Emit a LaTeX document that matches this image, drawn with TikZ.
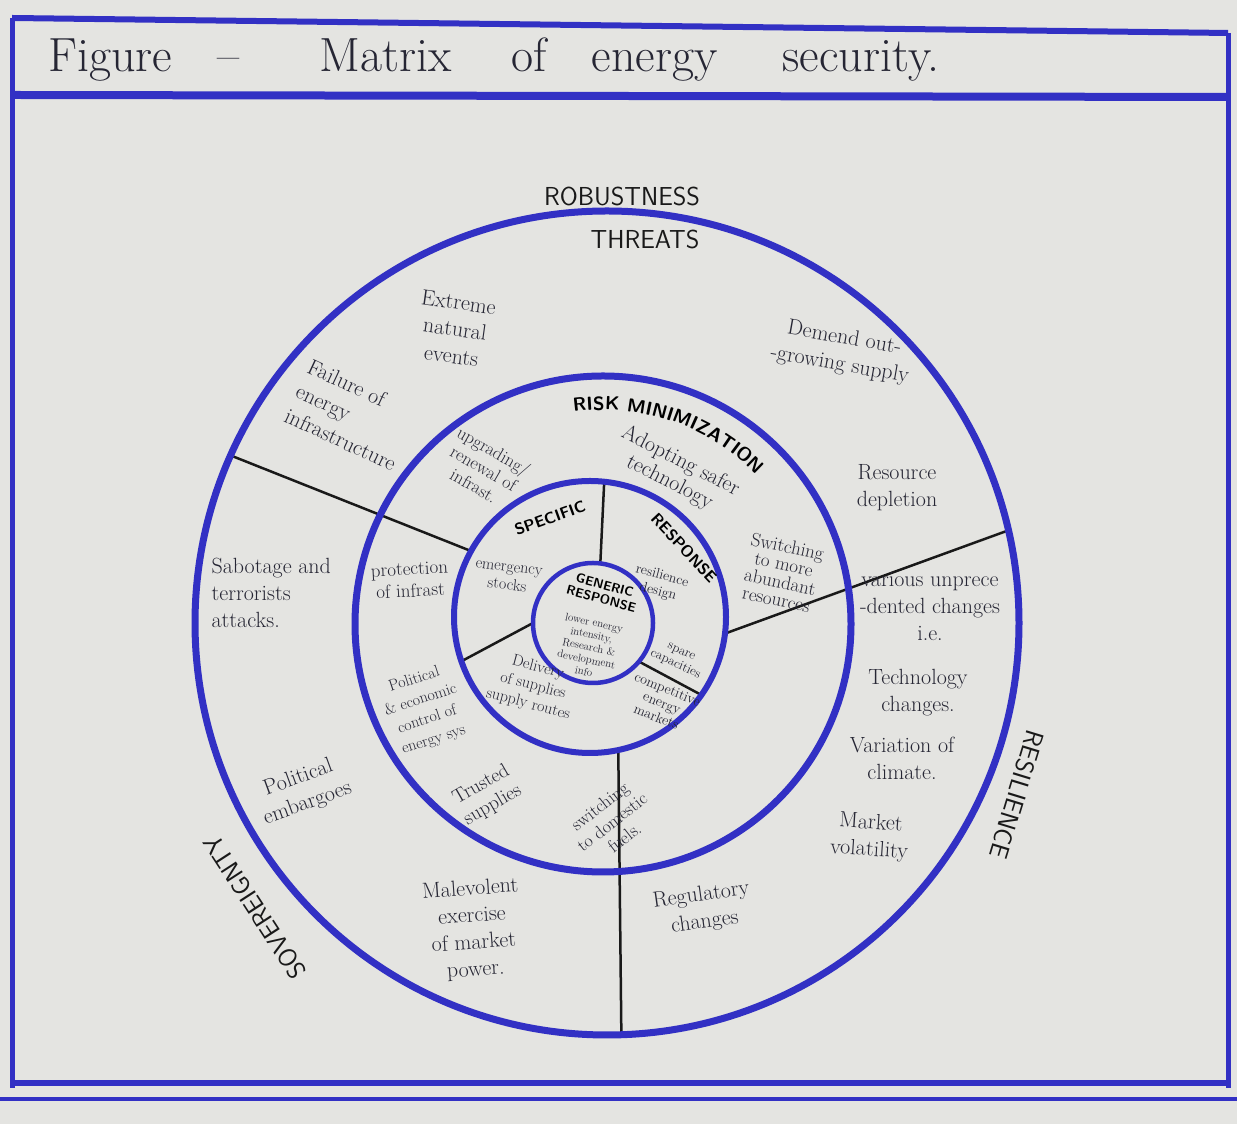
\documentclass[tikz,border=0pt]{standalone}
\usepackage{tikz}
\usetikzlibrary{backgrounds,decorations.text}
\definecolor{inkblue}{RGB}{50,48,196}
\definecolor{paper}{RGB}{228,228,225}
\definecolor{pencil}{RGB}{38,38,52}
\newcommand{\riskfont}{\sffamily\bfseries\fontsize{19}{21}\selectfont}
\tikzset{
	ring/.style={circle, draw=inkblue, inner sep=0pt, outer sep=0pt},
	divider/.style={draw=black!90, line width=2.5pt},
	frameline/.style={draw=inkblue, line width=6pt},
	heading/.style={font=\sffamily\fontsize{26}{28}\selectfont, text=black!90},
	threatlabel/.style={font=\fontsize{22}{27}\selectfont, text=pencil, align=center},
	risklabel/.style={font=\fontsize{19}{22}\selectfont, text=pencil, align=center},
	speclabel/.style={font=\fontsize{16}{18}\selectfont, text=pencil, align=center},
	speccap/.style={font=\sffamily\bfseries\fontsize{16}{18}\selectfont, text=black},
	gencap/.style={font=\sffamily\bfseries\fontsize{13}{14}\selectfont, text=black, align=center},
	genlabel/.style={font=\fontsize{11}{12.5}\selectfont, text=pencil, align=center},
}

\begin{document}
\begin{tikzpicture}[x=1pt, y=1pt]
	\begin{scope}[on background layer]
		\fill[paper] (0,0) rectangle (1237,1124);
	\end{scope}
	\useasboundingbox (0,0) rectangle (1237,1124);

	\draw[frameline] (12,1106) -- (1228,1091);
	\draw[frameline, line width=8pt] (12,1029) -- (1228,1027);
	\draw[frameline, line width=5pt] (12,1106) -- (12,36);
	\draw[frameline, line width=5pt] (1228,1091) -- (1228,36);
	\draw[frameline] (12,41) -- (1228,41);
	\draw[frameline, line width=4pt] (0,25) -- (1237,25);

	\node[anchor=base west, font=\fontsize{48}{52}\selectfont, text=pencil] (title) at (45,1052)
		{Figure\hspace{45pt}--\hspace{80pt}Matrix\hspace{60pt}of\hspace{45pt}energy\hspace{65pt}security.};

	\node[ring, line width=7pt, minimum size=824pt] (threats) at (607,501) {};
	\node[ring, line width=7pt, minimum size=496pt] (riskmin) at (603,500) {};
	\node[ring, line width=6pt, minimum size=272pt] (specific) at (590,507) {};
	\node[ring, line width=4.5pt, minimum size=120pt] (generic) at (593,501) {};

	\begin{scope}[on background layer]
		\draw[divider] (threats.156.7) -- (specific.151);
		\draw[divider] (threats.13.7) -- (specific.-7);
		\draw[divider] (threats.-88) -- (specific.-78);
		\draw[divider] (specific.84) -- (generic.83);
		\draw[divider] (specific.199) -- (generic.180);
		\draw[divider] (specific.-35) -- (generic.-40);
	\end{scope}

	\node[heading] (robust) at (622,928) {ROBUSTNESS};
	\node[heading] (threatword) at (645,885) {THREATS};
	\node[heading, rotate=123] (sovereign) at (255,217) {SOVEREIGNTY};
	\node[heading, rotate=-107] (resilience) at (1017,329) {RESILIENCE};
	\path[decorate, decoration={text along path, text align=center, text={|\riskfont|RISK MINIMIZATION}}]
		(riskmin.center) ++(104:214) arc[start angle=104, end angle=38, radius=214];

	\node[threatlabel, rotate=-8] (natural) at (455,795) {Extreme\\natural\\events};
	\node[threatlabel, align=left, rotate=-25] (failure) at (352,709) {Failure of\\energy\\infrastructure};
	\node[threatlabel, rotate=-10] (demand) at (842,772) {Demend out-\\-growing supply};
	\node[threatlabel] (depletion) at (897,636) {Resource\\depletion};
	\node[threatlabel, align=left, anchor=west] (sabotage) at (208,531) {Sabotage and\\terrorists\\attacks.};
	\node[threatlabel] (unprecedented) at (930,517) {various unprece\\-dented changes\\i.e.};
	\node[threatlabel] (technology) at (918,431) {Technology\\changes.};
	\node[threatlabel] (climate) at (902,366) {Variation of\\climate.};
	\node[threatlabel, rotate=-4] (volatility) at (870,287) {Market\\volatility};
	\node[threatlabel, rotate=20] (embargoes) at (303,333) {Political\\embargoes};
	\node[threatlabel, rotate=4] (malevolent) at (473,194) {Malevolent\\exercise\\of market\\power.};
	\node[threatlabel, rotate=8] (regulatory) at (703,215) {Regulatory\\changes};

	\node[risklabel, font=\fontsize{22}{24}\selectfont, rotate=-27] (adopting) at (675,652) {Adopting safer\\technology};
	\node[risklabel, font=\fontsize{18}{20}\selectfont, rotate=-30] (upgrading) at (484,656) {upgrading/\\renewal of\\infrast.};
	\node[risklabel, rotate=3] (protection) at (410,544) {protection\\of infrast};
	\node[risklabel, font=\fontsize{19}{18}\selectfont, rotate=-12] (switching) at (782,551) {Switching\\to more\\abundant\\resources};
	\node[risklabel, font=\fontsize{16}{21}\selectfont, rotate=18] (control) at (424,414) {Political\\\& economic\\control of\\energy sys};
	\node[risklabel, font=\fontsize{20}{23}\selectfont, rotate=30] (trusted) at (487,329) {Trusted\\supplies};
	\node[risklabel, font=\fontsize{18}{20}\selectfont, rotate=38] (domestic) at (612,302) {switching\\to domestic\\fuels.};

	\node[speccap, rotate=20] (specword) at (550,606) {SPECIFIC};
	\node[speccap, rotate=-47] (respword) at (684,576) {RESPONSE};
	\node[speclabel, rotate=-7] (emergency) at (508,547) {emergency\\stocks};
	\node[speclabel, font=\fontsize{14}{16}\selectfont, rotate=-15] (design) at (660,540) {resilience\\design};
	\node[speclabel, font=\fontsize{16}{19}\selectfont, rotate=-15] (delivery) at (533,438) {Delivery\\of supplies\\supply routes};
	\node[speclabel, font=\fontsize{13}{14}\selectfont, rotate=-25] (spare) at (678,465) {spare\\capacities};
	\node[speclabel, font=\fontsize{14}{15}\selectfont, rotate=-22] (competitive) at (662,421) {competitive\\energy\\markets};

	\node[gencap, rotate=-15] (genword) at (603,532) {GENERIC\\RESPONSE};
	\node[genlabel, rotate=-12] (lower) at (589,477) {lower energy\\intensity,\\Research \&\\development\\info};
\end{tikzpicture}
\end{document}
